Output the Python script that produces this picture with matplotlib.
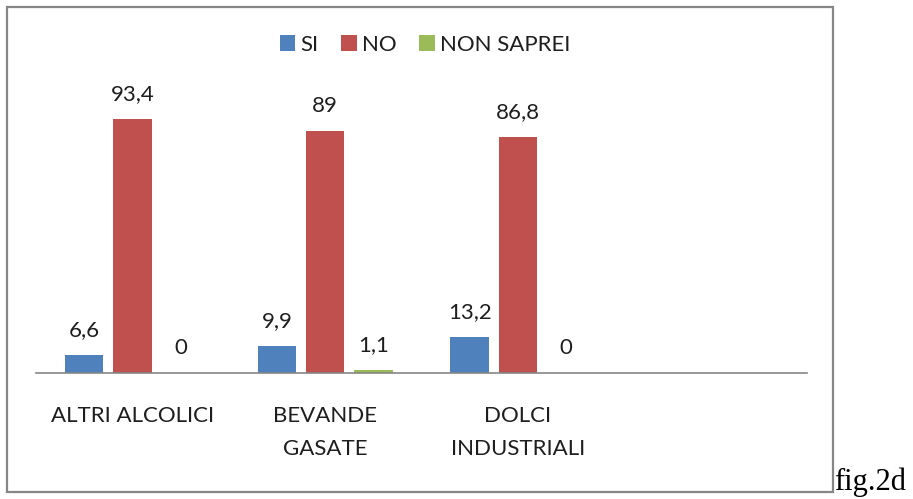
import matplotlib.pyplot as plt
import matplotlib.patches as patches
import numpy as np

# Data
categories = ["ALTRI ALCOLICI", "BEVANDE\nGASATE", "DOLCI\nINDUSTRIALI", ""]
si = [6.6, 9.9, 13.2]
no = [93.4, 89, 86.8]
non_saprei = [0, 1.1, 0]
labels_si = ["6,6", "9,9", "13,2"]
labels_no = ["93,4", "89", "86,8"]
labels_ns = ["0", "1,1", "0"]

plt.rcParams['font.family'] = ['Lato', 'DejaVu Sans']

W, H = 913, 499
fig = plt.figure(figsize=(W / 100, H / 100), dpi=100)

# outer frame
fig.patches.append(patches.Rectangle((7 / W, 1 - 492 / H), (833 - 7) / W, (492 - 7) / H,
                                     transform=fig.transFigure, fill=False,
                                     edgecolor="#868686", linewidth=1.6))

ax = fig.add_axes([36 / W, 1 - 373 / H, (807 - 36) / W, (373 - 101) / H])

x = np.arange(len(si))
bw = 0.2
off = 0.25
b1 = ax.bar(x - off, si, bw, color="#4f81bd", label="SI")
b2 = ax.bar(x, no, bw, color="#c0504d", label="NO")
b3 = ax.bar(x + off, non_saprei, bw, color="#9bbb59", label="NON SAPREI")

for bars, labs in [(b1, labels_si), (b2, labels_no), (b3, labels_ns)]:
    for b, t in zip(bars, labs):
        ax.annotate(t, (b.get_x() + b.get_width() / 2, b.get_height()),
                    xytext=(0, 11), textcoords="offset points",
                    ha="center", va="bottom", fontsize=16, color="#1e1e1e")

ax.set_xlim(-0.5, 3.5)
ax.set_ylim(0, 100)
ax.set_xticks(np.arange(len(categories)))
ax.set_xticklabels(categories, fontsize=16, color="#1e1e1e", linespacing=1.8)
ax.tick_params(axis="x", length=0, pad=24)
ax.set_yticks([])
for s in ["top", "right", "left"]:
    ax.spines[s].set_visible(False)
ax.spines["bottom"].set_color("#868686")
ax.spines["bottom"].set_linewidth(1.2)

fig.legend(loc="center", bbox_to_anchor=(425 / W, 1 - 45 / H), ncol=3,
           frameon=False, fontsize=16, handlelength=0.7, handleheight=0.7,
           handletextpad=0.25, columnspacing=1.0, labelcolor="#1e1e1e")

fig.text(834 / W, 1 - 490 / H, "fig.2d", family="Liberation Serif",
         fontsize=22, ha="left", va="baseline")

fig.savefig("out.png", dpi=100)
